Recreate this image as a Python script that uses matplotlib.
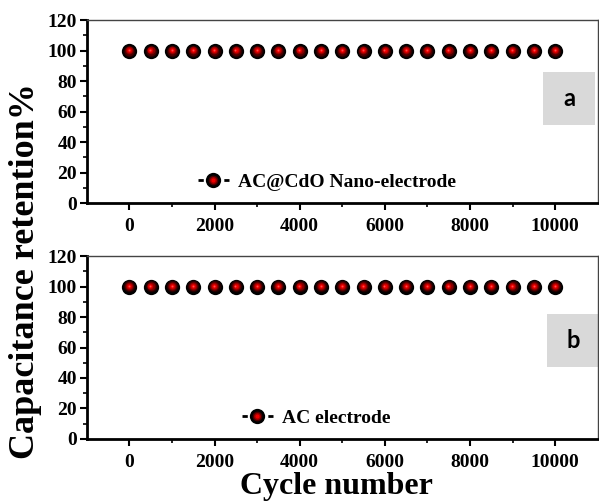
import numpy as np
import matplotlib.pyplot as plt
from matplotlib.lines import Line2D
from matplotlib.patches import Rectangle
from matplotlib.transforms import offset_copy

# данные
cycles = [0, 500, 1000, 1500, 2000, 2500, 3000, 3500, 4000, 4500, 5000,
          5500, 6000, 6500, 7000, 7500, 8000, 8500, 9000, 9500, 10000]
retention_cdo = [100] * 21
retention_ac = [100] * 21
labels = ["AC@CdO Nano-electrode", "AC electrode"]
panel_tags = ["a", "b"]

plt.rcParams['font.family'] = 'Liberation Serif'
plt.rcParams['font.weight'] = 'bold'

fig = plt.figure(figsize=(5.99, 5.04), dpi=100)
ax_top = fig.add_axes([0.145, 0.597, 0.853, 0.363])
ax_bot = fig.add_axes([0.145, 0.129, 0.853, 0.363])

# слои шарика: (размер, цвет) — от чёрного края к красному блику
layers = [(11, 'black'), (8.5, '#1e0000'), (7, '#4a0000'), (5.6, '#850000'),
          (4.2, '#c00000'), (2.8, '#f00000'), (1.4, '#ff4a4a')]


def sphere(ax, x, y):
    for z, (ms, c) in enumerate(layers):
        # блик чуть смещён вверх-влево
        shift = 0 if z == 0 else 0.35 * z / len(layers)
        tr = offset_copy(ax.transData, fig=fig, x=-shift, y=shift, units='points')
        ax.plot(x, y, 'o', ls='none', ms=ms, mfc=c, mec='none', zorder=3 + z,
                clip_on=False, transform=tr)


for ax, vals, lab, tag, box_xy, leg_x in [
        (ax_top, retention_cdo, labels[0], panel_tags[0], (0.893, 0.429), 0.47),
        (ax_bot, retention_ac, labels[1], panel_tags[1], (0.901, 0.391), 0.449)]:
    sphere(ax, cycles, vals)
    ax.set_xlim(-1000, 11000)
    ax.set_ylim(0, 120)
    ax.set_xticks(range(0, 10001, 2000))
    ax.set_xticks(range(1000, 10000, 2000), minor=True)
    ax.set_yticks(range(0, 121, 20))
    ax.set_yticks(range(10, 120, 20), minor=True)
    ax.tick_params(which='major', direction='out', length=5, width=1.5, labelsize=14, pad=6)
    ax.tick_params(which='minor', direction='out', length=3, width=1.2)
    ax.tick_params(axis='y', pad=2)
    for s in ['left', 'bottom']:
        ax.spines[s].set_linewidth(2)
    for s in ['top', 'right']:
        ax.spines[s].set_linewidth(1.0)
        ax.spines[s].set_color('#444444')

    # маркер легенды "-●-": штрих, пробел под шарик, штрих
    handle = (Line2D([], [], color='black', lw=2, ls=(0, (1.9, 7.4, 1.9, 20))),
              Line2D([], [], ls='none', marker='o', ms=11, mfc='black', mec='none'),
              Line2D([], [], ls='none', marker='o', ms=7, mfc='#4a0000', mec='none'),
              Line2D([], [], ls='none', marker='o', ms=5, mfc='#a00000', mec='none'),
              Line2D([], [], ls='none', marker='o', ms=3, mfc='#f00000', mec='none'))
    ax.legend([handle], [lab], loc='center', bbox_to_anchor=(leg_x, 0.115), frameon=False,
              handlelength=1.6, handletextpad=0.5,
              prop={'family': 'Liberation Serif', 'weight': 'bold', 'size': 14})

    # серая плашка с буквой панели
    ax.add_patch(Rectangle(box_xy, 0.102, 0.29, transform=ax.transAxes, fc='#d9d9d9', ec='none',
                           clip_on=False, zorder=2))
    ax.text(box_xy[0] + 0.051, box_xy[1] + 0.145, tag, transform=ax.transAxes, ha='center',
            va='center', fontsize=17, family='Lato', weight='bold', zorder=3)

fig.text(0.042, 0.462, "Capacitance retention%", rotation=90, ha='center', va='center',
         fontsize=26, weight='bold')
fig.text(0.561, 0.034, "Cycle number", ha='center', va='center', fontsize=23, weight='bold')

fig.savefig("out.png", dpi=100)
